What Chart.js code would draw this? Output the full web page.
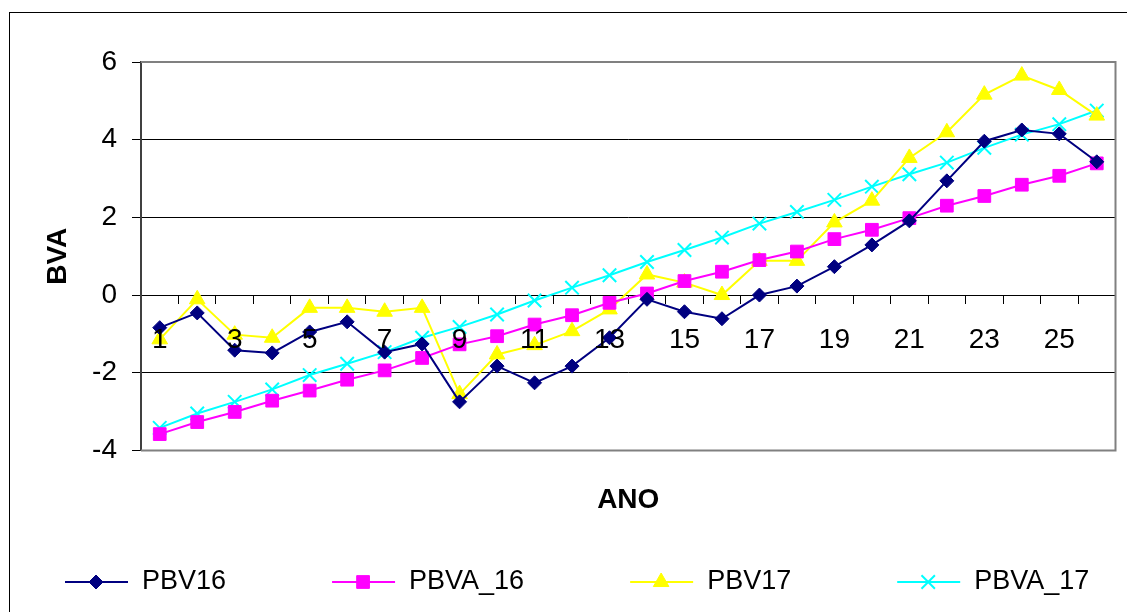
<!DOCTYPE html>
<html>
<head>
<meta charset="utf-8">
<script src="https://cdn.jsdelivr.net/npm/chart.js@4"></script>
<style>
  body { margin: 0; background: #fff; }
  #wrap { width: 1127px; height: 612px; position: relative; }
</style>
</head>
<body>
<div id="wrap"><canvas id="myChart"></canvas></div>
<script>
var anos = ["1", "2", "3", "4", "5", "6", "7", "8", "9", "10", "11", "12", "13",
  "14", "15", "16", "17", "18", "19", "20", "21", "22", "23", "24", "25", "26"];
var pbv16 = [-0.84, -0.46, -1.42, -1.49, -0.95, -0.69, -1.47, -1.26, -2.75, -1.83, -2.26, -1.83, -1.10,
  -0.11, -0.43, -0.61, 0.0, 0.23, 0.73, 1.29, 1.91, 2.94, 3.96, 4.25, 4.15, 3.43];
var pbva16 = [-3.58, -3.27, -3.01, -2.72, -2.46, -2.18, -1.94, -1.62, -1.27, -1.06, -0.76, -0.52, -0.20,
  0.04, 0.36, 0.60, 0.90, 1.12, 1.44, 1.68, 1.98, 2.30, 2.55, 2.84, 3.07, 3.39];
var pbv17 = [-1.14, -0.11, -1.02, -1.10, -0.33, -0.33, -0.43, -0.33, -2.55, -1.53, -1.29, -0.93, -0.37,
  0.53, 0.32, 0.0, 0.88, 0.88, 1.87, 2.43, 3.53, 4.19, 5.16, 5.65, 5.28, 4.62];
var pbva17 = [-3.42, -3.05, -2.75, -2.43, -2.06, -1.77, -1.47, -1.10, -0.82, -0.50, -0.14, 0.19, 0.51,
  0.85, 1.16, 1.48, 1.84, 2.14, 2.45, 2.79, 3.11, 3.41, 3.79, 4.13, 4.40, 4.75];
var yTicks = [-4, -2, 0, 2, 4, 6];

var FONT = "'Liberation Sans', Arial, sans-serif";

// outer frame + plot border (Excel look)
var framePlugin = {
  id: "frame",
  beforeDraw: function (chart) {
    var c = chart.ctx;
    c.save();
    c.fillStyle = "#fff";
    c.fillRect(0, 0, chart.width, chart.height);
    c.strokeStyle = "#000";
    c.lineWidth = 1;
    c.strokeRect(9.5, 12.5, 1300, 800);
    c.restore();
  },
  beforeDatasetsDraw: function (chart) {
    var a = chart.chartArea, c = chart.ctx;
    c.save();
    c.strokeStyle = "#808080";
    c.lineWidth = 2;
    c.beginPath();
    c.moveTo(a.left, a.top);
    c.lineTo(a.right, a.top);
    c.lineTo(a.right, a.bottom);
    c.lineTo(a.left, a.bottom);
    c.stroke();
    c.restore();
  },
};

// legend drawn Excel style: line with marker in the middle
var legendPlugin = {
  id: "excelLegend",
  afterDraw: function (chart) {
    var c = chart.ctx;
    var x = 65, y = 582;
    c.save();
    c.font = "27px " + FONT;
    c.textBaseline = "middle";
    c.textAlign = "left";
    chart.data.datasets.forEach(function (ds) {
      c.strokeStyle = ds.borderColor;
      c.lineWidth = 2;
      c.beginPath();
      c.moveTo(x, y);
      c.lineTo(x + 63, y);
      c.stroke();
      c.fillStyle = ds.pointBackgroundColor;
      c.strokeStyle = ds.pointBorderColor;
      c.lineWidth = ds.pointBorderWidth;
      Chart.helpers.drawPoint(c, {
        pointStyle: ds.pointStyle,
        radius: ds.pointRadius,
        borderWidth: ds.pointBorderWidth,
        rotation: 0,
      }, x + 31, y);
      c.fillStyle = "#000";
      c.fillText(ds.label, x + 77, y);
      x += 77 + c.measureText(ds.label).width + 106;
    });
    c.restore();
  },
};

function serie(label, data, color, style, radius, bw) {
  return {
    label: label,
    data: data,
    borderColor: color,
    backgroundColor: color,
    borderWidth: 2,
    pointStyle: style,
    pointRadius: radius,
    pointHoverRadius: radius,
    pointBackgroundColor: color,
    pointBorderColor: color,
    pointBorderWidth: bw,
    tension: 0,
  };
}

var ctx = document.getElementById("myChart").getContext("2d");
var myChart = new Chart(ctx, {
  type: "line",
  data: {
    labels: anos,
    datasets: [
      serie("PBV16", pbv16, "#000080", "rectRot", 7, 1),
      serie("PBVA_16", pbva16, "#FF00FF", "rect", 9, 1),
      serie("PBV17", pbv17, "#FFFF00", "triangle", 9, 1),
      serie("PBVA_17", pbva17, "#00FFFF", "crossRot", 9.5, 2),
    ],
  },
  plugins: [framePlugin, legendPlugin],
  options: {
    responsive: true,
    maintainAspectRatio: false,
    animation: false,
    devicePixelRatio: 1,
    layout: {
      padding: { left: 20, right: 8, top: 62, bottom: 95 },
    },
    plugins: {
      legend: { display: false },
      tooltip: { enabled: false },
      title: {
        display: true,
        text: "ANO",
        position: "bottom",
        fullSize: false,
        color: "#000",
        font: { family: FONT, size: 28, weight: "bold" },
        padding: { top: 33, bottom: 0 },
      },
    },
    scales: {
      x: {
        type: "category",
        position: { y: 0 },
        offset: true,
        afterFit: function (s) { s.height = 0; },
        grid: {
          offset: true,
          drawOnChartArea: false,
          drawTicks: true,
          tickLength: 8,
          color: "#000",
        },
        border: { display: true, color: "#000", width: 1 },
        ticks: {
          z: 1,
          autoSkip: false,
          maxRotation: 0,
          padding: 20,
          color: "#000",
          font: { family: FONT, size: 28 },
          callback: function (v, i) {
            return i % 2 === 0 ? this.getLabelForValue(v) : "";
          },
        },
      },
      y: {
        min: yTicks[0],
        max: yTicks[yTicks.length - 1],
        afterFit: function (s) { s.width = 121; },
        grid: {
          color: "#000",
          lineWidth: 1,
          drawTicks: true,
          tickLength: 9,
        },
        border: { display: true, color: "#404040", width: 2 },
        ticks: {
          stepSize: 2,
          padding: 15,
          color: "#000",
          font: { family: FONT, size: 28 },
        },
        title: {
          display: true,
          text: "BVA",
          color: "#000",
          font: { family: FONT, size: 28, weight: "bold" },
          padding: { top: 21, bottom: 0 },
        },
      },
    },
  },
});
</script>
</body>
</html>
